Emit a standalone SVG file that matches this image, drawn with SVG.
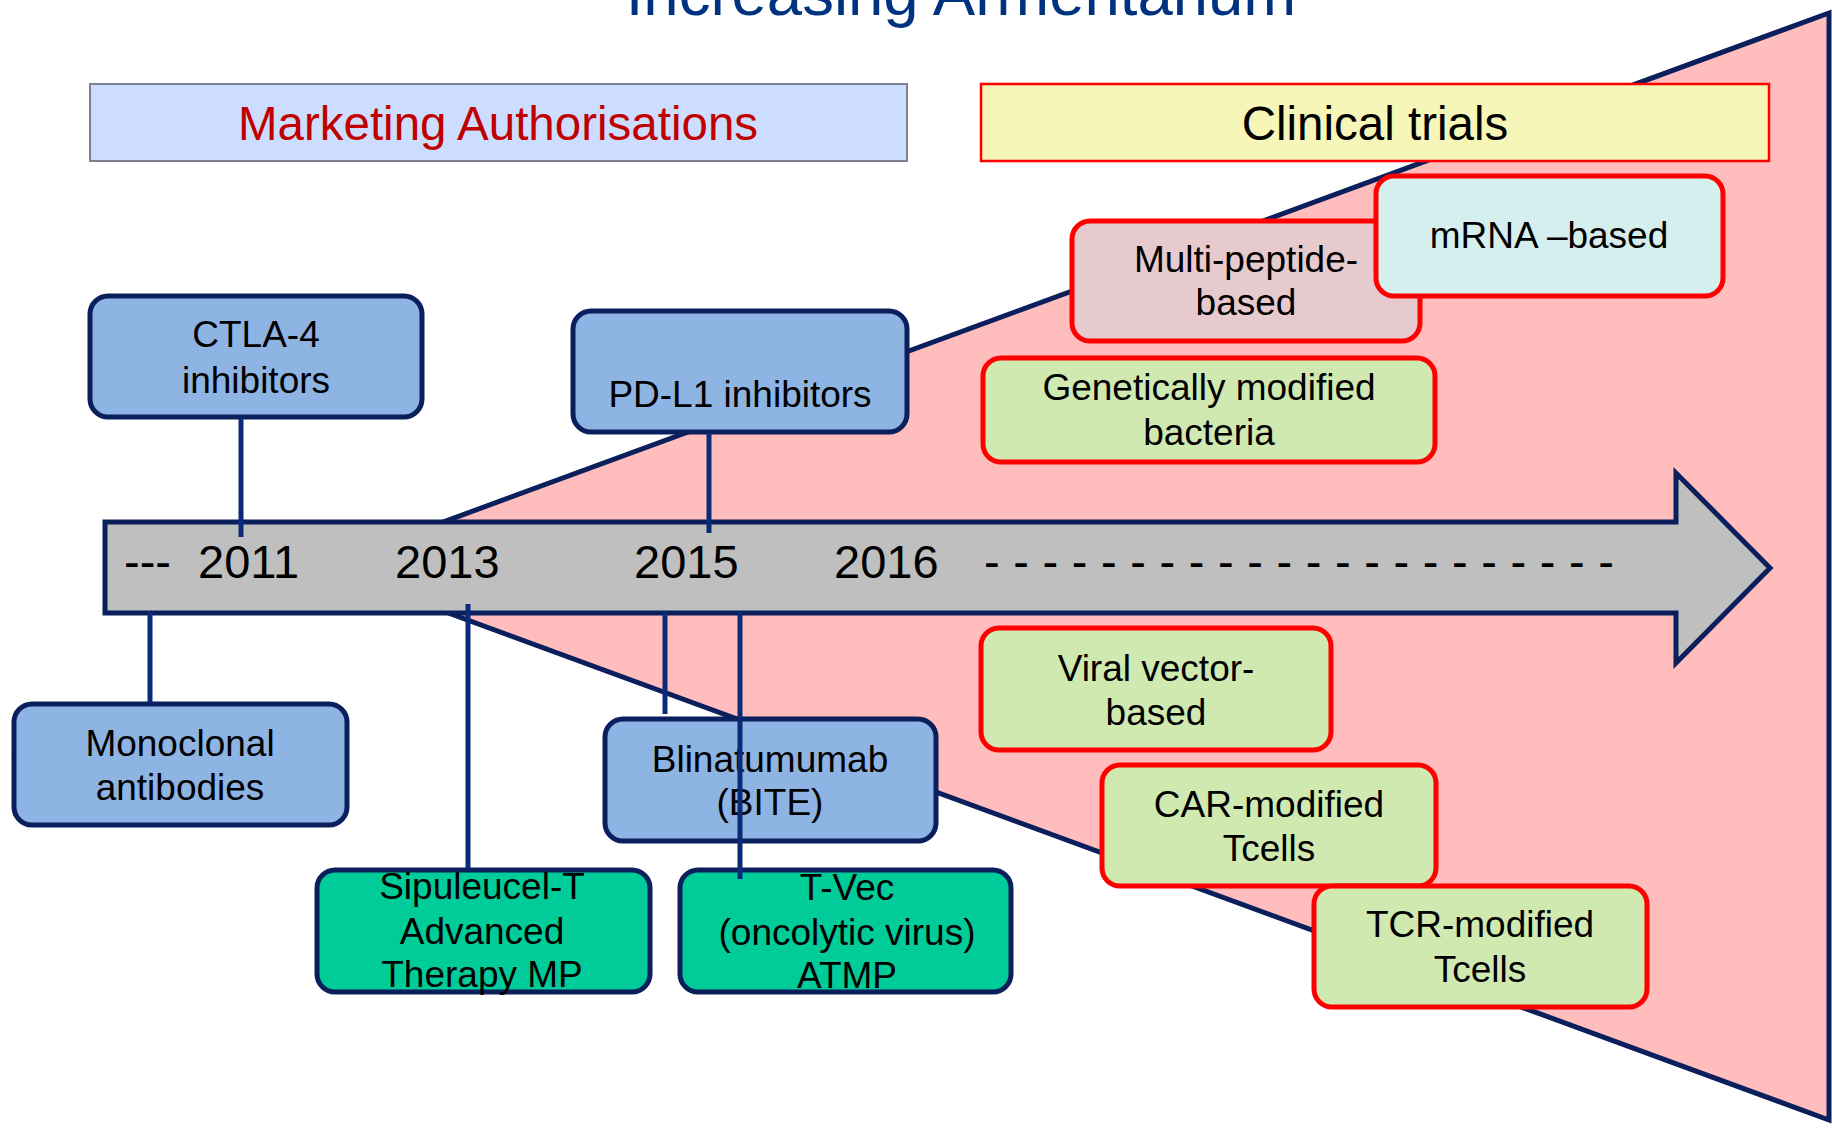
<svg xmlns="http://www.w3.org/2000/svg" width="1832" height="1128" viewBox="0 0 1832 1128">
<style>
text{font-family:"Liberation Sans",Arial,Helvetica,sans-serif;fill:#000}
.t{font-size:37px;text-anchor:middle}
.hd{font-size:47.5px;text-anchor:middle}
.yr{font-size:47px}
.bn{fill:#8EB4E3;stroke:#0A1F5C;stroke-width:5}
.gn{fill:#00CC99;stroke:#0A1F5C;stroke-width:5}
.rn{stroke:#FF0000;stroke-width:5}
.conn line{stroke:#0B2A7A;stroke-width:5}
</style>
<rect x="0" y="0" width="1832" height="1128" fill="#FFFFFF"/>
<g id="funnel">
<polygon points="322,566.5 1829,13 1829,1120" fill="#FFBDBD" stroke="#0A1F5C" stroke-width="5"/>
</g>
<text x="961" y="15" style="font-size:63.5px;text-anchor:middle;fill:#00337F">Increasing Armentarium</text>
<g id="marketing-authorisations">
<rect x="90" y="84" width="817" height="77" fill="#CCDDFF" stroke="#7F7F8F" stroke-width="2"/>
<text class="hd" x="498" y="140" style="fill:#C00000">Marketing Authorisations</text>
</g>
<g id="clinical-trials">
<rect x="981" y="84" width="788" height="77" fill="#F6F6B8" stroke="#FF0000" stroke-width="2.5"/>
<text class="hd" x="1375" y="140">Clinical trials</text>
</g>
<g id="timeline">
<polygon points="105,522 1676,522 1676,473 1770,568 1676,663 1676,613 105,613" fill="#BFBFBF" stroke="#0A1F5C" stroke-width="5"/>
<text class="yr" x="124" y="578">---</text>
<text class="yr" x="198" y="578">2011</text>
<text class="yr" x="395" y="578">2013</text>
<text class="yr" x="634" y="578">2015</text>
<text class="yr" x="834" y="578">2016</text>
<text class="yr" x="984" y="578" letter-spacing="0.27">- - - - - - - - - - - - - - - - - - - - - -</text>
</g>
<g id="ctla4">
<rect class="bn" x="90" y="296" width="332" height="121" rx="18"/>
<text class="t" x="256" y="347">CTLA-4</text>
<text class="t" x="256" y="393">inhibitors</text>
</g>
<g id="pdl1">
<rect class="bn" x="573" y="311" width="334" height="121" rx="18"/>
<text class="t" x="740" y="407">PD-L1 inhibitors</text>
</g>
<g id="monoclonal">
<rect class="bn" x="14" y="704" width="333" height="121" rx="18"/>
<text class="t" x="180" y="756">Monoclonal</text>
<text class="t" x="180" y="800">antibodies</text>
</g>
<g id="blinatumumab">
<rect class="bn" x="605" y="719" width="331" height="122" rx="18"/>
<text class="t" x="770" y="772">Blinatumumab</text>
<text class="t" x="770" y="815">(BITE)</text>
</g>
<g id="sipuleucel">
<rect class="gn" x="317" y="870" width="333" height="122" rx="18"/>
<text class="t" x="482" y="899">Sipuleucel-T</text>
<text class="t" x="482" y="944">Advanced</text>
<text class="t" x="482" y="987">Therapy MP</text>
</g>
<g id="tvec">
<rect class="gn" x="680" y="870" width="331" height="122" rx="18"/>
<text class="t" x="847" y="900">T-Vec</text>
<text class="t" x="847" y="945">(oncolytic virus)</text>
<text class="t" x="847" y="988">ATMP</text>
</g>
<g id="multi-peptide">
<rect class="rn" x="1072" y="221" width="348" height="120" rx="18" fill="#E6CACD"/>
<text class="t" x="1246" y="272">Multi-peptide-</text>
<text class="t" x="1246" y="315">based</text>
</g>
<g id="mrna">
<rect class="rn" x="1376" y="176" width="347" height="120" rx="18" fill="#D5EFEF"/>
<text class="t" x="1549" y="248">mRNA –based</text>
</g>
<g id="bacteria">
<rect class="rn" x="983" y="358" width="452" height="104" rx="18" fill="#CFE9B1"/>
<text class="t" x="1209" y="400">Genetically modified</text>
<text class="t" x="1209" y="445">bacteria</text>
</g>
<g id="viral-vector">
<rect class="rn" x="981" y="628" width="350" height="122" rx="18" fill="#CFE9B1"/>
<text class="t" x="1156" y="681">Viral vector-</text>
<text class="t" x="1156" y="725">based</text>
</g>
<g id="car">
<rect class="rn" x="1102" y="765" width="334" height="121" rx="18" fill="#CFE9B1"/>
<text class="t" x="1269" y="817">CAR-modified</text>
<text class="t" x="1269" y="861">Tcells</text>
</g>
<g id="tcr">
<rect class="rn" x="1314" y="886" width="333" height="121" rx="18" fill="#CFE9B1"/>
<text class="t" x="1480" y="937">TCR-modified</text>
<text class="t" x="1480" y="982">Tcells</text>
</g>
<g id="connectors" class="conn">
<line x1="241" y1="418" x2="241" y2="537"/>
<line x1="709" y1="433" x2="709" y2="533"/>
<line x1="150" y1="612" x2="150" y2="703"/>
<line x1="468" y1="604" x2="468" y2="869"/>
<line x1="665" y1="612" x2="665" y2="714"/>
<line x1="740" y1="612" x2="740" y2="879"/>
</g>
</svg>
